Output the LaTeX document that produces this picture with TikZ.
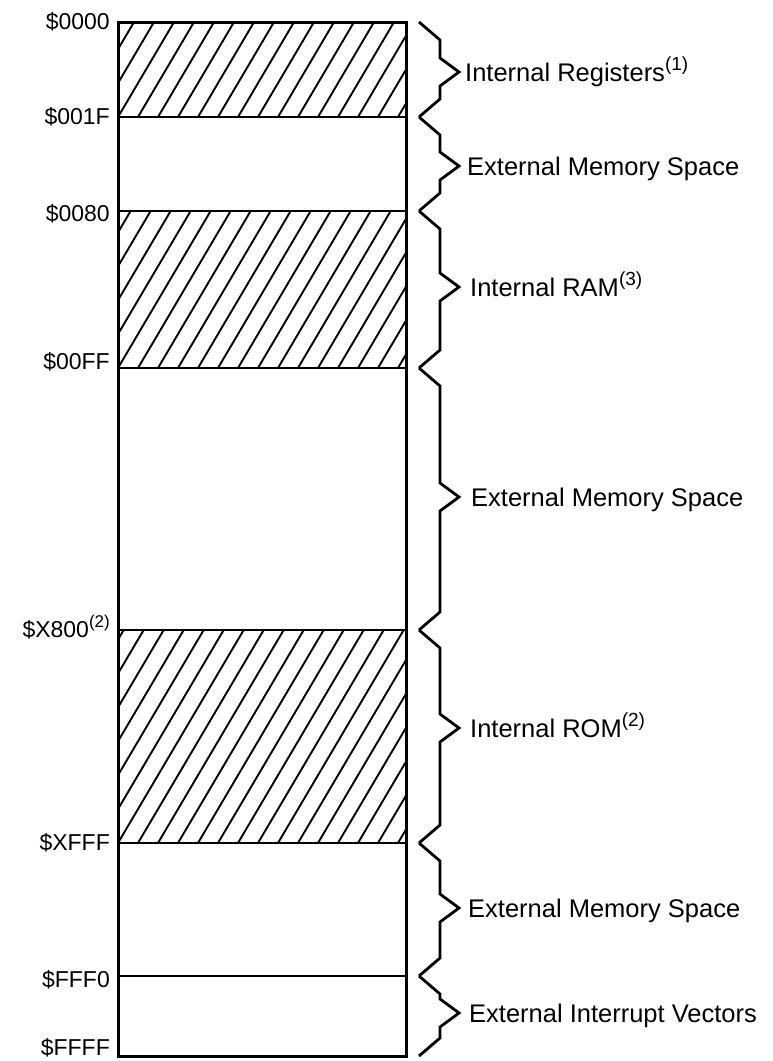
\documentclass[tikz,border=0pt]{standalone}
\usepackage{fontspec}
\setmainfont{Liberation Sans}
\newcommand\bigsup[1]{\raisebox{0.40em}{\fontsize{19}{19}\selectfont(#1)}}
\newcommand\smallsup[1]{\raisebox{0.40em}{\fontsize{17}{17}\selectfont(#1)}}
\begin{document}
\begin{tikzpicture}[x=1pt,y=-1pt,
  outline/.style={line width=3pt},
  divider/.style={line width=2.7pt},
  hatchline/.style={line width=1.9pt},
  bracepath/.style={line width=2.8pt, line join=miter},
  addr/.style={anchor=base east, inner sep=0pt, font=\fontsize{23}{25}\selectfont},
  region/.style={anchor=base west, inner sep=0pt, font=\fontsize{25.5}{28}\selectfont}]
\useasboundingbox (0,0) rectangle (773,1061);

% hatched bands
\foreach \ya/\yb in {22/117, 211/368, 630/843} {
  \begin{scope}
    \clip (118,\ya) rectangle (406,\yb);
    \foreach \k in {-7,...,15} {
      \draw[hatchline] ({118+20*\k},\yb) -- ({118+20*\k+0.59*(\yb-\ya)},\ya);
    }
  \end{scope}
}

% dividers
\foreach \y in {117,211,368,630,843,976} {
  \draw[divider] (118,\y) -- (406,\y);
}
% outline
\draw[outline] (118,22) rectangle (406,1056);

% braces
\foreach \ya/\tip/\yb in {22/72/117, 117/166/211, 211/287/368, 368/497/630, 630/728/843, 843/908/976, 976/1013/1056} {
  \draw[bracepath] (419,\ya) -- (440,{\ya+18}) -- (440,{\tip-14}) -- (459,\tip)
    -- (440,{\tip+14}) -- (440,{\yb-18}) -- (419,\yb);
}

% address labels
\node[addr] (l0000) at (110,29) {\$0000};
\node[addr] (l001F) at (110,124) {\$001F};
\node[addr] (l0080) at (110,221) {\$0080};
\node[addr] (l00FF) at (110,369) {\$00FF};
\node[addr] (lX800) at (110,637) {\$X800\smallsup{2}};
\node[addr] (lXFFF) at (110,850) {\$XFFF};
\node[addr] (lFFF0) at (110,987) {\$FFF0};
\node[addr] (lFFFF) at (110,1055) {\$FFFF};

% region labels
\node[region] (rreg)  at (465,81)   {Internal Registers\bigsup{1}};
\node[region] (rext1) at (467,175)  {External Memory Space};
\node[region] (rram)  at (470,296)  {Internal RAM\bigsup{3}};
\node[region] (rext2) at (471,506)  {External Memory Space};
\node[region] (rrom)  at (470,737)  {Internal ROM\bigsup{2}};
\node[region] (rext3) at (468,917)  {External Memory Space};
\node[region] (rvec)  at (469,1022) {External Interrupt Vectors};
\end{tikzpicture}
\end{document}
